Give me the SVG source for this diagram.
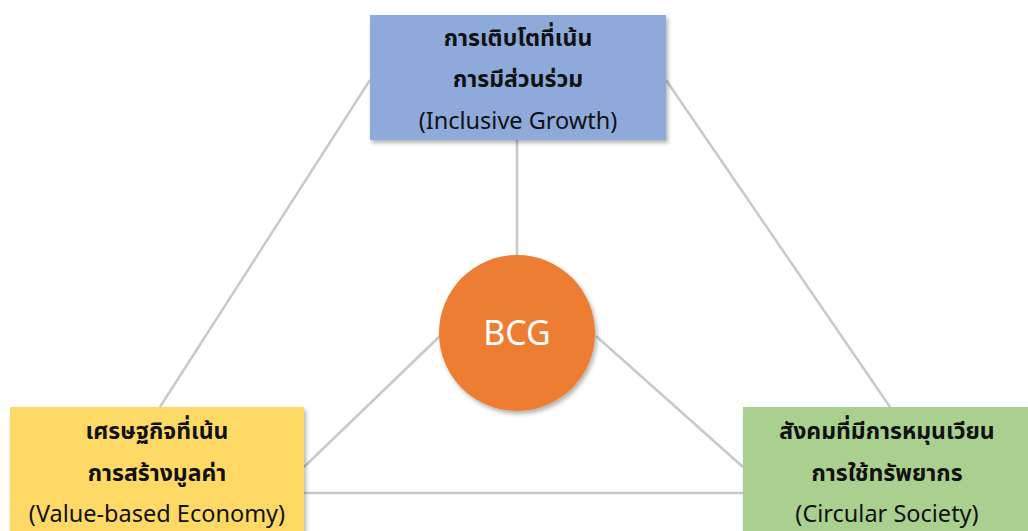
<svg xmlns="http://www.w3.org/2000/svg" width="1028" height="531" viewBox="0 0 1028 531">
<style>
.c{stroke:#c9c9c9;stroke-width:2.5;fill:none}
.t{font-family:"Noto Sans","Noto Sans Thai","DejaVu Sans",sans-serif;font-size:23.5px;fill:#111;text-anchor:middle;dominant-baseline:central}
.th{font-weight:bold;font-size:23px}
.b{filter:url(#sh)}
</style>
<defs>
<filter id="sh" x="-10%" y="-10%" width="120%" height="130%"><feDropShadow dx="2" dy="3" stdDeviation="2" flood-color="#000" flood-opacity="0.3"/></filter>
</defs>
<rect width="1028" height="531" fill="#fff"/>
<g id="connectors">
<line class="c" x1="370" y1="80" x2="160" y2="407"/>
<line class="c" x1="666" y1="80" x2="890" y2="407"/>
<line class="c" x1="517" y1="140" x2="517" y2="256"/>
<line class="c" x1="440" y1="336" x2="304" y2="467"/>
<line class="c" x1="596" y1="336" x2="743" y2="467"/>
<line class="c" x1="304" y1="493" x2="743" y2="493"/>
</g>
<g id="inclusive">
<rect class="b" x="370" y="15" width="296" height="125" fill="#8eaadb"/>
<text class="t th" x="518" y="37">การเติบโตที่เน้น</text>
<text class="t th" x="518" y="78">การมีส่วนร่วม</text>
<text class="t" x="518" y="120">(Inclusive Growth)</text>
</g>
<g id="value">
<rect class="b" x="10" y="407" width="294" height="140" fill="#ffd966"/>
<text class="t th" x="157" y="430">เศรษฐกิจที่เน้น</text>
<text class="t th" x="157" y="472">การสร้างมูลค่า</text>
<text class="t" x="157" y="513">(Value-based Economy)</text>
</g>
<g id="circular">
<rect class="b" x="743" y="407" width="300" height="140" fill="#a9d08e"/>
<text class="t th" x="887" y="430">สังคมที่มีการหมุนเวียน</text>
<text class="t th" x="887" y="472">การใช้ทรัพยากร</text>
<text class="t" x="887" y="513">(Circular Society)</text>
</g>
<g id="bcg">
<circle class="b" cx="517" cy="333" r="78" fill="#ed7d31"/>
<text class="t" x="517" y="332" style="fill:#fff;font-size:34px">BCG</text>
</g>
</svg>
